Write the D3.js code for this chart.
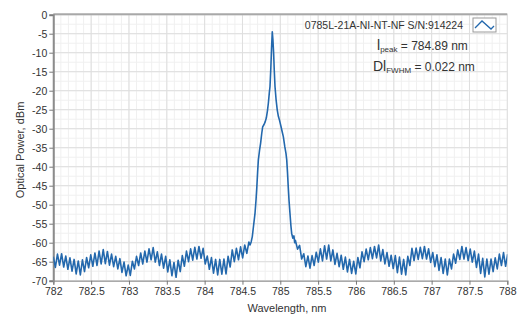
<!DOCTYPE html>
<html>
<head>
<meta charset="utf-8">
<title>Optical spectrum</title>
<script src="https://cdn.jsdelivr.net/npm/d3@7/dist/d3.min.js"></script>
<style>
  body { margin: 0; background: #fff; }
  text { font-family: "Liberation Sans", Arial, sans-serif; fill: #333; }
</style>
</head>
<body>
<svg id="chart" width="525" height="316"></svg>

<script>
// tick labels
var xTicks = [782, 782.5, 783, 783.5, 784, 784.5, 785, 785.5, 786, 786.5, 787, 787.5, 788];
var yTicks = [0, -5, -10, -15, -20, -25, -30, -35, -40, -45, -50, -55, -60, -65, -70];

// noise floor left of the line, sampled every 0.0275 nm from 782
var leftStart = 782, leftStep = 0.0275;
var leftDb = [
  -63.7, -66.5, -63.0, -65.9, -62.9, -66.4, -63.5, -67.0, -64.0, -67.5,
  -64.4, -68.2, -64.8, -68.5, -64.5, -67.6, -63.9, -66.6, -63.2, -66.2,
  -62.7, -66.0, -62.2, -65.6, -61.8, -65.5, -62.3, -65.9, -63.0, -66.3,
  -63.6, -66.9, -64.2, -67.8, -65.1, -68.7, -65.9, -68.6, -64.9, -66.9,
  -63.6, -66.0, -62.7, -65.6, -62.2, -65.1, -61.6, -64.5, -61.3, -65.1,
  -62.4, -66.0, -63.0, -66.7, -63.6, -67.7, -64.5, -68.7, -65.2, -69.1,
  -64.6, -67.6, -63.4, -66.2, -62.2, -65.0, -61.6, -64.6, -61.2, -64.3,
  -61.0, -64.1, -61.5, -65.6, -63.5, -67.0, -63.9, -68.0, -64.4, -68.5,
  -64.4, -68.3, -64.3, -68.2, -63.6, -66.4, -61.9, -65.0, -61.5, -64.5,
  -61.1, -64.0, -60.6, -62.8, -59.8
];

// laser line
var peakWl = [
  784.600, 784.615, 784.630, 784.645, 784.666, 784.680, 784.690, 784.700, 784.710, 784.725,
  784.740, 784.755, 784.767, 784.785, 784.800, 784.815, 784.830, 784.842, 784.855, 784.864,
  784.875, 784.884, 784.894, 784.902, 784.912, 784.920, 784.930, 784.945, 784.960, 784.975,
  784.990, 785.010, 785.025, 785.040, 785.060, 785.075, 785.085, 785.095, 785.105, 785.115,
  785.128, 785.140, 785.150, 785.165, 785.180, 785.190
];
var peakDb = [
  -60.6, -59.8, -58.4, -55.8, -52.2, -48.5, -45.3, -41.5, -38.2, -35.8,
  -33.8, -31.2, -29.5, -28.9, -28.2, -27.2, -25.3, -23.3, -20.5, -18.9,
  -14.0, -9.0, -4.5, -6.5, -10.2, -14.5, -18.9, -22.5, -25.1, -26.8,
  -27.8, -29.5, -30.8, -32.1, -34.8, -36.5, -38.2, -41.5, -45.3, -48.8,
  -52.3, -55.5, -57.5, -58.8, -58.2, -60.0
];

// noise floor right of the line, sampled every 0.0275 nm from 785.2
var rightStart = 785.2, rightStep = 0.0275;
var rightDb = [
  -59.4, -61.7, -60.7, -64.3, -62.9, -66.3, -63.5, -66.7, -63.4, -66.0,
  -62.5, -65.1, -61.6, -64.8, -60.8, -64.3, -60.6, -64.8, -61.9, -65.7,
  -62.8, -66.3, -63.3, -67.0, -63.8, -67.7, -64.4, -68.1, -64.9, -68.2,
  -63.9, -66.6, -62.4, -65.0, -61.7, -64.5, -61.3, -64.2, -61.0, -64.0,
  -60.6, -64.8, -61.8, -65.6, -62.6, -66.2, -63.3, -66.8, -63.4, -67.9,
  -63.8, -68.3, -64.4, -68.5, -63.6, -66.0, -61.5, -64.7, -61.4, -64.4,
  -61.2, -64.2, -61.0, -64.3, -61.6, -65.2, -62.6, -66.3, -63.2, -67.3,
  -63.9, -68.1, -64.3, -68.5, -64.3, -66.9, -63.0, -65.4, -61.9, -64.4,
  -61.0, -64.3, -61.3, -64.7, -61.7, -65.1, -62.2, -66.5, -63.0, -68.1,
  -64.1, -69.0, -64.3, -68.3, -64.3, -67.6, -64.0, -66.9, -63.0, -66.0,
  -62.6, -66.2, -63.0
];

var legendName = "0785L-21A-NI-NT-NF S/N:914224";
var peakLabel = "784.89 nm";
var fwhmLabel = "0.022 nm";

var spectrum = []
  .concat(leftDb.map(function(v, i) { return [leftStart + i * leftStep, v]; }))
  .concat(peakDb.map(function(v, i) { return [peakWl[i], v]; }))
  .concat(rightDb.map(function(v, i) { return [rightStart + i * rightStep, v]; }));

var svg = d3.select("#chart");
var pLeft = 53.3, pRight = 507.3, pTop = 14.7, pBottom = 280.7;

var x = d3.scaleLinear().domain([782, 788]).range([pLeft, pRight]);
var y = d3.scaleLinear().domain([-70, 0]).range([pBottom, pTop]);

// grid, minor then major
var grid = svg.append("g");
grid.selectAll(".vmin").data(d3.range(782, 788.001, 0.1)).enter().append("line")
    .attr("x1", function(d) { return x(d); }).attr("x2", function(d) { return x(d); })
    .attr("y1", pTop).attr("y2", pBottom)
    .attr("stroke", "#f0f0f0");
grid.selectAll(".hmin").data(d3.range(-70, 0.001, 2.5)).enter().append("line")
    .attr("y1", function(d) { return y(d); }).attr("y2", function(d) { return y(d); })
    .attr("x1", pLeft).attr("x2", pRight)
    .attr("stroke", "#f0f0f0");
grid.selectAll(".vmaj").data(xTicks).enter().append("line")
    .attr("x1", function(d) { return x(d); }).attr("x2", function(d) { return x(d); })
    .attr("y1", pTop).attr("y2", pBottom)
    .attr("stroke", "#dedede");
grid.selectAll(".hmaj").data(yTicks).enter().append("line")
    .attr("y1", function(d) { return y(d); }).attr("y2", function(d) { return y(d); })
    .attr("x1", pLeft).attr("x2", pRight)
    .attr("stroke", "#dedede");

// frame
svg.append("line").attr("x1", pLeft).attr("x2", pRight).attr("y1", pTop - 0.5).attr("y2", pTop - 0.5)
    .attr("stroke", "#a8a8a8").attr("stroke-width", 2);

// axes
var xAxis = svg.append("g")
    .attr("transform", "translate(0," + pBottom + ")")
    .call(d3.axisBottom(x).tickValues(xTicks).tickSize(4).tickPadding(3)
      .tickFormat(function(d) { return String(d); }));
var yAxis = svg.append("g")
    .attr("transform", "translate(" + pLeft + ",0)")
    .call(d3.axisLeft(y).tickValues(yTicks).tickSize(4).tickPadding(2)
      .tickFormat(function(d) { return String(d); }));

xAxis.select(".domain").attr("stroke", "#aaa").attr("stroke-width", 1.5);
yAxis.select(".domain").attr("stroke", "#8c8c8c").attr("stroke-width", 2);
svg.selectAll(".tick line").attr("stroke", "#777");
svg.selectAll(".tick text").style("font-size", "10.5px").attr("fill", "#333");

// trace
svg.append("clipPath").attr("id", "plot")
  .append("rect").attr("x", pLeft).attr("y", pTop - 2).attr("width", pRight - pLeft).attr("height", pBottom - pTop + 4);

var line = d3.line()
    .x(function(d) { return x(d[0]); })
    .y(function(d) { return y(d[1]); });

svg.append("path")
    .datum(spectrum)
    .attr("clip-path", "url(#plot)")
    .attr("fill", "none")
    .attr("stroke", "#2368ad")
    .attr("stroke-width", 1.6)
    .attr("stroke-linejoin", "round")
    .attr("d", line);

// axis titles
svg.append("text")
    .attr("x", 287).attr("y", 312)
    .attr("text-anchor", "middle")
    .style("font-size", "11px")
    .text("Wavelength, nm");
svg.append("text")
    .attr("transform", "translate(24,150) rotate(-90)")
    .attr("text-anchor", "middle")
    .style("font-size", "11px")
    .text("Optical Power, dBm");

// legend
svg.append("text")
    .attr("x", 463).attr("y", 29)
    .attr("text-anchor", "end")
    .style("font-size", "10.5px")
    .text(legendName);
svg.append("rect")
    .attr("x", 473).attr("y", 18).attr("width", 23).attr("height", 14)
    .attr("fill", "#fff").attr("stroke", "#9a9a9a");
svg.append("polyline")
    .attr("points", "475,28 482,21 491,29 494,26")
    .attr("fill", "none").attr("stroke", "#2368ad").attr("stroke-width", 1.3);

var t1 = svg.append("text").attr("x", 377).attr("y", 50).style("font-size", "12px");
t1.append("tspan").style("font-size", "14px").text("l");
t1.append("tspan").attr("dy", 2).style("font-size", "8px").text("peak");
t1.append("tspan").attr("dy", -2).text(" = " + peakLabel);

var t2 = svg.append("text").attr("x", 373).attr("y", 71).style("font-size", "12px");
t2.append("tspan").style("font-size", "14px").text("Dl");
t2.append("tspan").attr("dy", 2).style("font-size", "8px").text("FWHM");
t2.append("tspan").attr("dy", -2).text(" = " + fwhmLabel);
</script>
</body>
</html>
